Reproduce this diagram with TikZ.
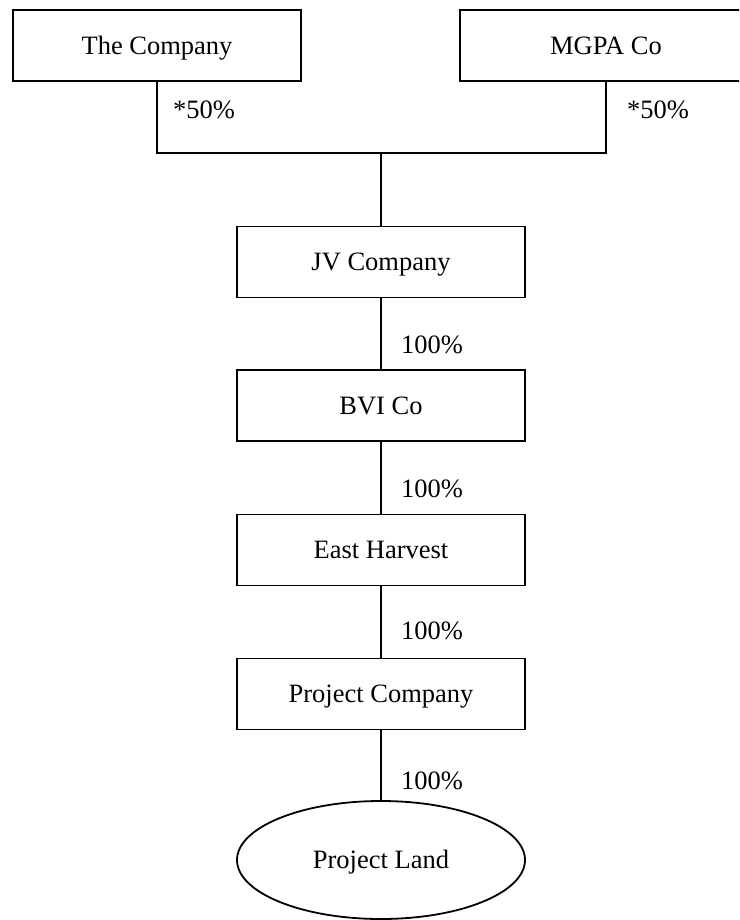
\documentclass[tikz,border=0pt]{standalone}
\usepackage{fontspec}
\setmainfont{Liberation Serif}
\usetikzlibrary{shapes.geometric}
\begin{document}
\begin{tikzpicture}[x=1pt,y=-1pt,
  ln/.style={line width=1.8pt},
  txt/.style={font=\fontsize{26.5}{31}\selectfont,text height=17.5pt,text depth=0pt},
  box/.style={draw,line width=1.8pt,rectangle,minimum width=288pt,minimum height=71pt,inner sep=0pt,txt},
  oval/.style={draw,line width=1.8pt,ellipse,minimum width=288pt,minimum height=118pt,inner sep=0pt,txt},
  lbl/.style={inner sep=0pt,txt}]
\useasboundingbox (0,0) rectangle (739,920);
\clip (0,0) rectangle (739,920);
\node[box] (tc) at (157,45.5) {The Company};
\node[box,minimum width=292pt] (mg) at (606,45.5) {MGPA Co};
\node[box] (jv) at (381,262) {JV Company};
\node[box] (bvi) at (381,405.5) {BVI Co};
\node[box] (eh) at (381,550) {East Harvest};
\node[box] (pc) at (381,694) {Project Company};
\node[oval] (pl) at (381,860) {Project Land};
\coordinate (j) at (381,153);
\draw[ln] (tc.south) |- (j) -| (mg.south);
\draw[ln] (j) -- (jv.north);
\draw[ln] (jv) -- (bvi);
\draw[ln] (bvi) -- (eh);
\draw[ln] (eh) -- (pc);
\draw[ln] (pc) -- (pl);
\node[lbl] (l1) at (204,110) {*50\%};
\node[lbl] (l2) at (658,110) {*50\%};
\node[lbl] (l3) at (432,345) {100\%};
\node[lbl] (l4) at (432,489) {100\%};
\node[lbl] (l5) at (432,631) {100\%};
\node[lbl] (l6) at (432,781) {100\%};
\end{tikzpicture}
\end{document}
